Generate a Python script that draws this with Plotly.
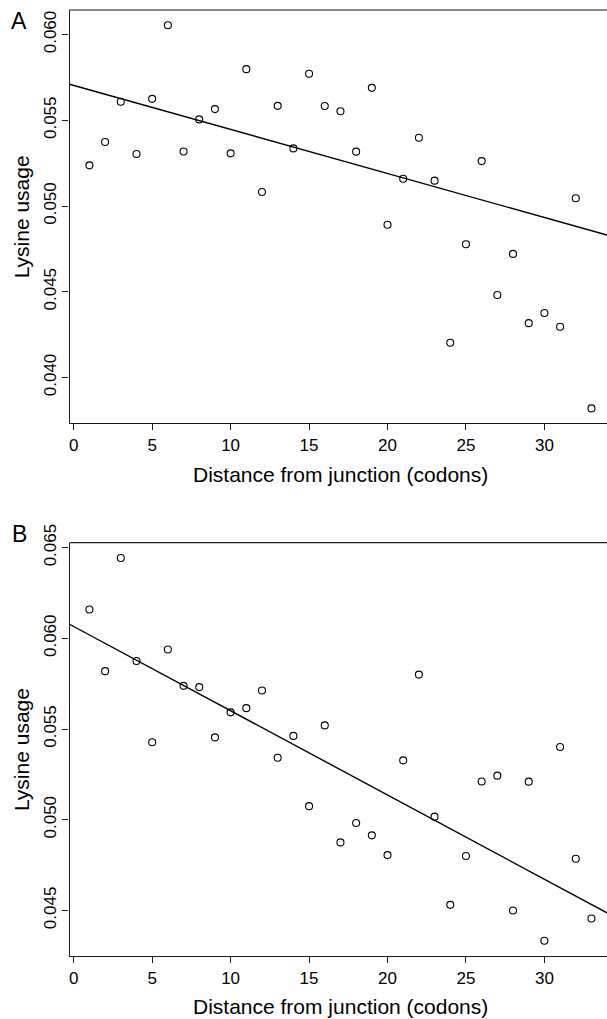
import numpy as np
import plotly.graph_objects as go

# ---- data ----
codon_distance = list(range(1, 34))

lysine_A = [0.05237, 0.05373, 0.05608, 0.05303, 0.05625, 0.06054, 0.05318, 0.05505,
            0.05565, 0.05307, 0.05798, 0.05082, 0.05584, 0.05336, 0.05771, 0.05583,
            0.05553, 0.05317, 0.05689, 0.04891, 0.05159, 0.05398, 0.05148, 0.04203,
            0.04777, 0.05262, 0.04481, 0.04721, 0.04317, 0.04376, 0.04296, 0.05045,
            0.03820]

lysine_B = [0.06159, 0.05819, 0.06443, 0.05875, 0.05427, 0.05938, 0.05738, 0.05731,
            0.05454, 0.05592, 0.05615, 0.05712, 0.05342, 0.05462, 0.05075, 0.05520,
            0.04875, 0.04982, 0.04914, 0.04805, 0.05327, 0.05800, 0.05017, 0.04531,
            0.04800, 0.05211, 0.05243, 0.04500, 0.05210, 0.04333, 0.05401, 0.04785,
            0.04456]

# fitted trend lines (intercept, slope)
fit_A = (0.05703, -0.0002567)
fit_B = (0.06065, -0.0004643)

x_ticks = [0, 5, 10, 15, 20, 25, 30]
y_ticks_A = [0.040, 0.045, 0.050, 0.055, 0.060]
y_ticks_B = [0.045, 0.050, 0.055, 0.060, 0.065]

panel_labels = ["A", "B"]
x_title = "Distance from junction (codons)"
y_title = "Lysine usage"

# ---- layout geometry ----
W, H = 607, 1019
x_range = [-0.27, 33.99]
y_range_A = [0.03733, 0.06143]
y_range_B = [0.04249, 0.06527]
x_dom = [69.5 / W, 1.0]
dom_A = [1 - 423.3 / H, 1 - 10 / H]
dom_B = [1 - 956 / H, 1 - 542.7 / H]

FONT = "Liberation Sans, Arial, Helvetica, sans-serif"
INK = "#1a1a1a"

fig = go.Figure()

xs = np.array(x_range)
for vals, fit, xa, ya in [(lysine_A, fit_A, "x", "y"), (lysine_B, fit_B, "x2", "y2")]:
    fig.add_trace(go.Scatter(
        x=codon_distance, y=vals, mode="markers", xaxis=xa, yaxis=ya,
        marker=dict(symbol="circle-open", size=7, color="black", line=dict(width=1.1, color="black")),
        showlegend=False, hoverinfo="x+y"))
    fig.add_trace(go.Scatter(
        x=xs, y=fit[0] + fit[1] * xs, mode="lines", xaxis=xa, yaxis=ya,
        line=dict(color="black", width=1.4), showlegend=False, hoverinfo="skip"))

axis_common = dict(showgrid=False, zeroline=False, showline=True, linecolor=INK, linewidth=1.2,
                   ticks="outside", ticklen=6, tickwidth=1, tickcolor=INK,
                   tickfont=dict(family=FONT, size=17, color="black"), automargin=False)

fig.update_layout(
    width=W, height=H, margin=dict(l=0, r=0, t=0, b=0),
    paper_bgcolor="white", plot_bgcolor="white",
    font=dict(family=FONT, color="black"),
    xaxis=dict(domain=x_dom, range=x_range, anchor="y", tickvals=x_ticks, **axis_common),
    yaxis=dict(domain=dom_A, range=y_range_A, anchor="x", tickvals=y_ticks_A, tickformat=".3f",
               tickangle=-90, **axis_common),
    xaxis2=dict(domain=x_dom, range=x_range, anchor="y2", tickvals=x_ticks, **axis_common),
    yaxis2=dict(domain=dom_B, range=y_range_B, anchor="x2", tickvals=y_ticks_B, tickformat=".3f",
                tickangle=-90, **axis_common),
)

# top border lines of each panel (right side is cut off at the page edge)
for xref, yref in [("x domain", "y domain"), ("x2 domain", "y2 domain")]:
    fig.add_shape(type="line", xref=xref, yref=yref,
                  x0=0, x1=1, y0=1, y1=1, line=dict(color=INK, width=1.2))

# axis titles and panel labels
x_center = (69.5 + 611.5) / 2 / W
for dom, lab, ly in [(dom_A, panel_labels[0], 1 - 20.5 / H), (dom_B, panel_labels[1], 1 - 534.3 / H)]:
    fig.add_annotation(text=x_title, xref="paper", yref="paper", x=x_center,
                       y=dom[0] - 51 / H, xanchor="center", yanchor="middle", showarrow=False,
                       font=dict(family=FONT, size=21, color="black"))
    fig.add_annotation(text=y_title, xref="paper", yref="paper", x=21.7 / W,
                       y=(dom[0] + dom[1]) / 2, xanchor="center", yanchor="middle", textangle=-90,
                       showarrow=False, font=dict(family=FONT, size=21, color="black"))
    fig.add_annotation(text=lab, xref="paper", yref="paper", x=19 / W, y=ly,
                       xanchor="center", yanchor="middle", showarrow=False,
                       font=dict(family=FONT, size=23, color="black"))

fig.write_html(
    "out.html",
    config={"displayModeBar": False},
    post_script="document.body.style.margin='0px';document.body.style.padding='0px';"
                "document.body.style.overflow='hidden';"
                "document.documentElement.style.overflow='hidden';",
)
